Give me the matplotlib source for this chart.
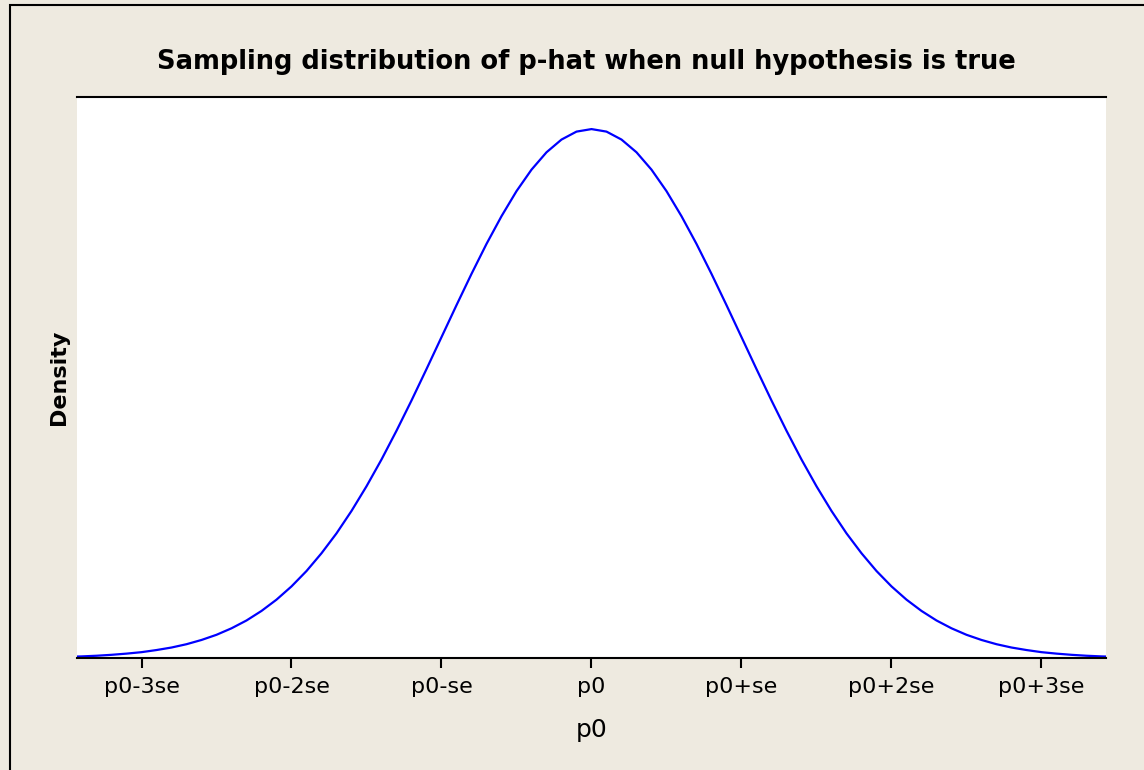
import matplotlib
matplotlib.use("Agg")
import matplotlib.pyplot as plt
from matplotlib.patches import Rectangle

# curve: x in standard-error units, y = density
x_se = [-3.5, -3.4, -3.3, -3.2, -3.1, -3.0, -2.9, -2.8, -2.7, -2.6, -2.5, -2.4, -2.3, -2.2,
        -2.1, -2.0, -1.9, -1.8, -1.7, -1.6, -1.5, -1.4, -1.3, -1.2, -1.1, -1.0, -0.9, -0.8,
        -0.7, -0.6, -0.5, -0.4, -0.3, -0.2, -0.1, 0.0, 0.1, 0.2, 0.3, 0.4, 0.5, 0.6, 0.7,
        0.8, 0.9, 1.0, 1.1, 1.2, 1.3, 1.4, 1.5, 1.6, 1.7, 1.8, 1.9, 2.0, 2.1, 2.2, 2.3,
        2.4, 2.5, 2.6, 2.7, 2.8, 2.9, 3.0, 3.1, 3.2, 3.3, 3.4, 3.5]
density = [0.0009, 0.0012, 0.0017, 0.0024, 0.0033, 0.0044, 0.0060, 0.0079, 0.0104, 0.0136,
           0.0175, 0.0224, 0.0283, 0.0355, 0.0440, 0.0540, 0.0656, 0.0790, 0.0940, 0.1109,
           0.1295, 0.1497, 0.1714, 0.1942, 0.2179, 0.2420, 0.2661, 0.2897, 0.3123, 0.3332,
           0.3521, 0.3683, 0.3814, 0.3910, 0.3970, 0.3989, 0.3970, 0.3910, 0.3814, 0.3683,
           0.3521, 0.3332, 0.3123, 0.2897, 0.2661, 0.2420, 0.2179, 0.1942, 0.1714, 0.1497,
           0.1295, 0.1109, 0.0940, 0.0790, 0.0656, 0.0540, 0.0440, 0.0355, 0.0283, 0.0224,
           0.0175, 0.0136, 0.0104, 0.0079, 0.0060, 0.0044, 0.0033, 0.0024, 0.0017, 0.0012,
           0.0009]

tick_pos = [-3, -2, -1, 0, 1, 2, 3]
tick_labels = ["p0-3se", "p0-2se", "p0-se", "p0", "p0+se", "p0+2se", "p0+3se"]

W, H = 1144, 770
bg = "#eeeae0"
fig = plt.figure(figsize=(W / 100, H / 100), dpi=100, facecolor=bg)

# outer frame (only top and left edges visible in the picture)
fig.patches.append(Rectangle((10 / W, -0.1), 1.2, 1 - 5 / H + 0.1, transform=fig.transFigure,
                             fill=False, edgecolor="black", linewidth=1.5))

ax = fig.add_axes([77 / W, 1 - 658 / H, (1106 - 77) / W, (658 - 97) / H])
ax.set_facecolor("white")
ax.plot(x_se, density, color="#0000ff", linewidth=1.6)

ax.set_xlim(-3.43, 3.43)
ax.set_ylim(0, 0.4231)
ax.set_xticks(tick_pos)
ax.set_xticklabels(tick_labels, fontsize=16)
ax.set_yticks([])
ax.tick_params(axis="x", direction="out", length=7, width=1.5, pad=7)

for s in ["left", "right"]:
    ax.spines[s].set_visible(False)
ax.spines["top"].set_linewidth(1.5)
ax.spines["bottom"].set_linewidth(1.5)

ax.set_xlabel("p0", fontsize=18, labelpad=15)
ax.set_ylabel("Density", fontsize=16, fontweight="bold", labelpad=6)
fig.text(586 / W, 1 - 62 / H, "Sampling distribution of p-hat when null hypothesis is true",
         ha="center", va="center", fontsize=18.5, fontweight="bold")

fig.savefig("out.png", dpi=100, facecolor=bg)
